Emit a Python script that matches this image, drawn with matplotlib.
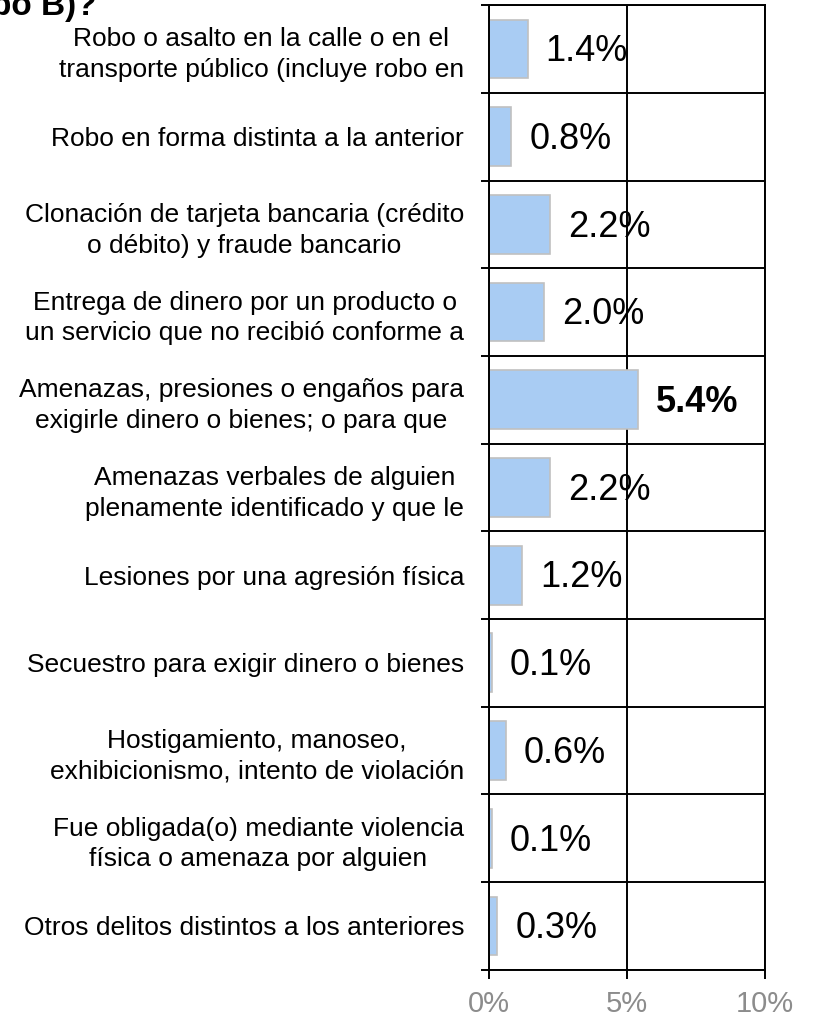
import matplotlib
matplotlib.use("Agg")
import matplotlib.pyplot as plt
import numpy as np

plt.rcParams["font.family"] = ["Liberation Sans", "DejaVu Sans"]

categories = [
    "Robo o asalto en la calle o en el\ntransporte público (incluye robo en",
    "Robo en forma distinta a la anterior",
    "Clonación de tarjeta bancaria (crédito\no débito) y fraude bancario",
    "Entrega de dinero por un producto o\nun servicio que no recibió conforme a",
    "Amenazas, presiones o engaños para\nexigirle dinero o bienes; o para que",
    "Amenazas verbales de alguien\nplenamente identificado y que le",
    "Lesiones por una agresión física",
    "Secuestro para exigir dinero o bienes",
    "Hostigamiento, manoseo,\nexhibicionismo, intento de violación",
    "Fue obligada(o) mediante violencia\nfísica o amenaza por alguien",
    "Otros delitos distintos a los anteriores",
]
values = [1.4, 0.8, 2.2, 2.0, 5.4, 2.2, 1.2, 0.1, 0.6, 0.1, 0.3]
x_ticks = [0, 5, 10]
x_tick_labels = ["0%", "5%", "10%"]
highlight = 4  # bold label for the largest value

fig = plt.figure(figsize=(8.13, 10.23), dpi=100)
ax = fig.add_axes([0.6015, 0.052, 0.3395, 0.943])

y = np.arange(len(values))
ax.barh(y, values, height=0.67, color="#a9ccf3", edgecolor="#c0c0c0", linewidth=1.2, zorder=2)

for i, v in enumerate(values):
    ax.annotate(f"{v:.1f}%", xy=(v, i), xytext=(13, -2), textcoords="offset points",
                va="center", ha="left", fontsize=26,
                fontweight="bold" if i == highlight else "normal", zorder=3)

ax.set_xlim(0, 10)
ax.set_ylim(len(values) - 0.5, -0.5)

ax.set_xticks(x_ticks)
ax.set_xticklabels(x_tick_labels, fontsize=21, color="#8c8c8c")
ax.tick_params(axis="x", direction="out", length=6.5, width=1.4, pad=8)

ax.set_yticks(y)
ax.set_yticklabels(categories, fontsize=19, ha="right", multialignment="center", linespacing=1.35)
ax.tick_params(axis="y", which="major", length=0, pad=18)
ax.set_yticks(np.arange(len(values) + 1) - 0.5, minor=True)
ax.tick_params(axis="y", which="minor", direction="out", length=6, width=1.4)

ax.grid(axis="x", which="major", color="black", linewidth=1.4, zorder=1)
ax.grid(axis="y", which="minor", color="black", linewidth=1.4, zorder=1)
ax.set_axisbelow(True)
for s in ax.spines.values():
    s.set_linewidth(1.4)

# heading runs off the top-left edge
fig.text(96 / 813, 1.0 - 15 / 1023, "(tipo robo B)?", ha="right", va="baseline",
         fontsize=24, fontweight="bold")

fig.savefig("out.png", dpi=100)
